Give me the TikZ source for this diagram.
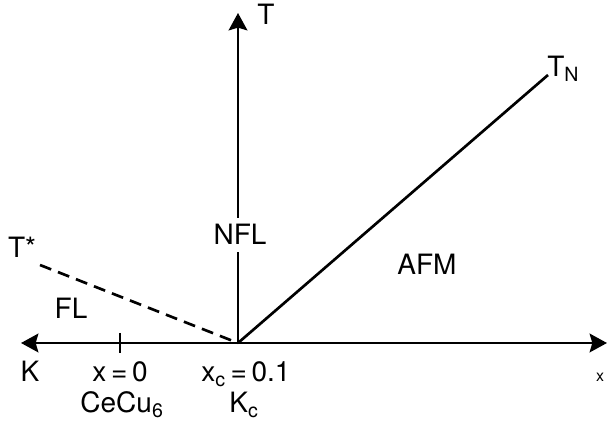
\documentclass[tikz,border=0pt]{standalone}
\usepackage{fontspec}
\setmainfont{TeX Gyre Heros}
\usepackage{tikz}
\usetikzlibrary{arrows.meta}

\begin{document}
\begin{tikzpicture}[x=0.75pt,y=-0.75pt,>={Stealth[length=13pt,width=14pt,inset=2pt]},
    lbl/.style={inner sep=0pt,anchor=base,font=\fontsize{21}{24}\selectfont},
    axis/.style={line width=2pt}]
    \useasboundingbox (0,0) rectangle (608,423);
    \coordinate (O) at (238,343);
    \coordinate (Ttip) at (238,13);
    \coordinate (Ktip) at (21,343);
    \coordinate (Xtip) at (607,343);
    \coordinate (TNend) at (548,75);
    \coordinate (TSend) at (40,265);
    % axes
    \draw[<->,axis] (Ktip) -- (Xtip);
    \draw[->,axis] (O) -- (Ttip);
    \draw[axis] (O) -- (TNend);
    \draw[axis,dash pattern=on 9pt off 5.5pt] (TSend) -- (O);
    \draw[axis] (120,333) -- (120,353);
    % labels
    \node[lbl] (T) at (266,25) {T};
    \node[lbl,anchor=base west] (TN) at (547,77) {T\textsubscript{N}};
    \node[lbl] (Tstar) at (22,258) {T*};
    \node[lbl] (FL) at (71,319) {FL};
    \node[lbl,fill=white,inner xsep=1pt,inner ysep=5pt] (NFL) at (240,245) {NFL};
    \node[lbl] (AFM) at (427,275) {AFM};
    \node[lbl] (K) at (30,382) {K};
    \node[lbl] (x0) at (120,382) {x\,=\,0};
    \node[lbl] (CeCu) at (122,413) {CeCu\textsubscript{6}};
    \node[lbl] (xc) at (246,382) {x\textsubscript{c}\,=\,0.1};
    \node[lbl] (Kc) at (244,413) {K\textsubscript{c}};
    \node[lbl,font=\fontsize{12}{14}\selectfont] (xsm) at (600,382) {x};
\end{tikzpicture}
\end{document}
